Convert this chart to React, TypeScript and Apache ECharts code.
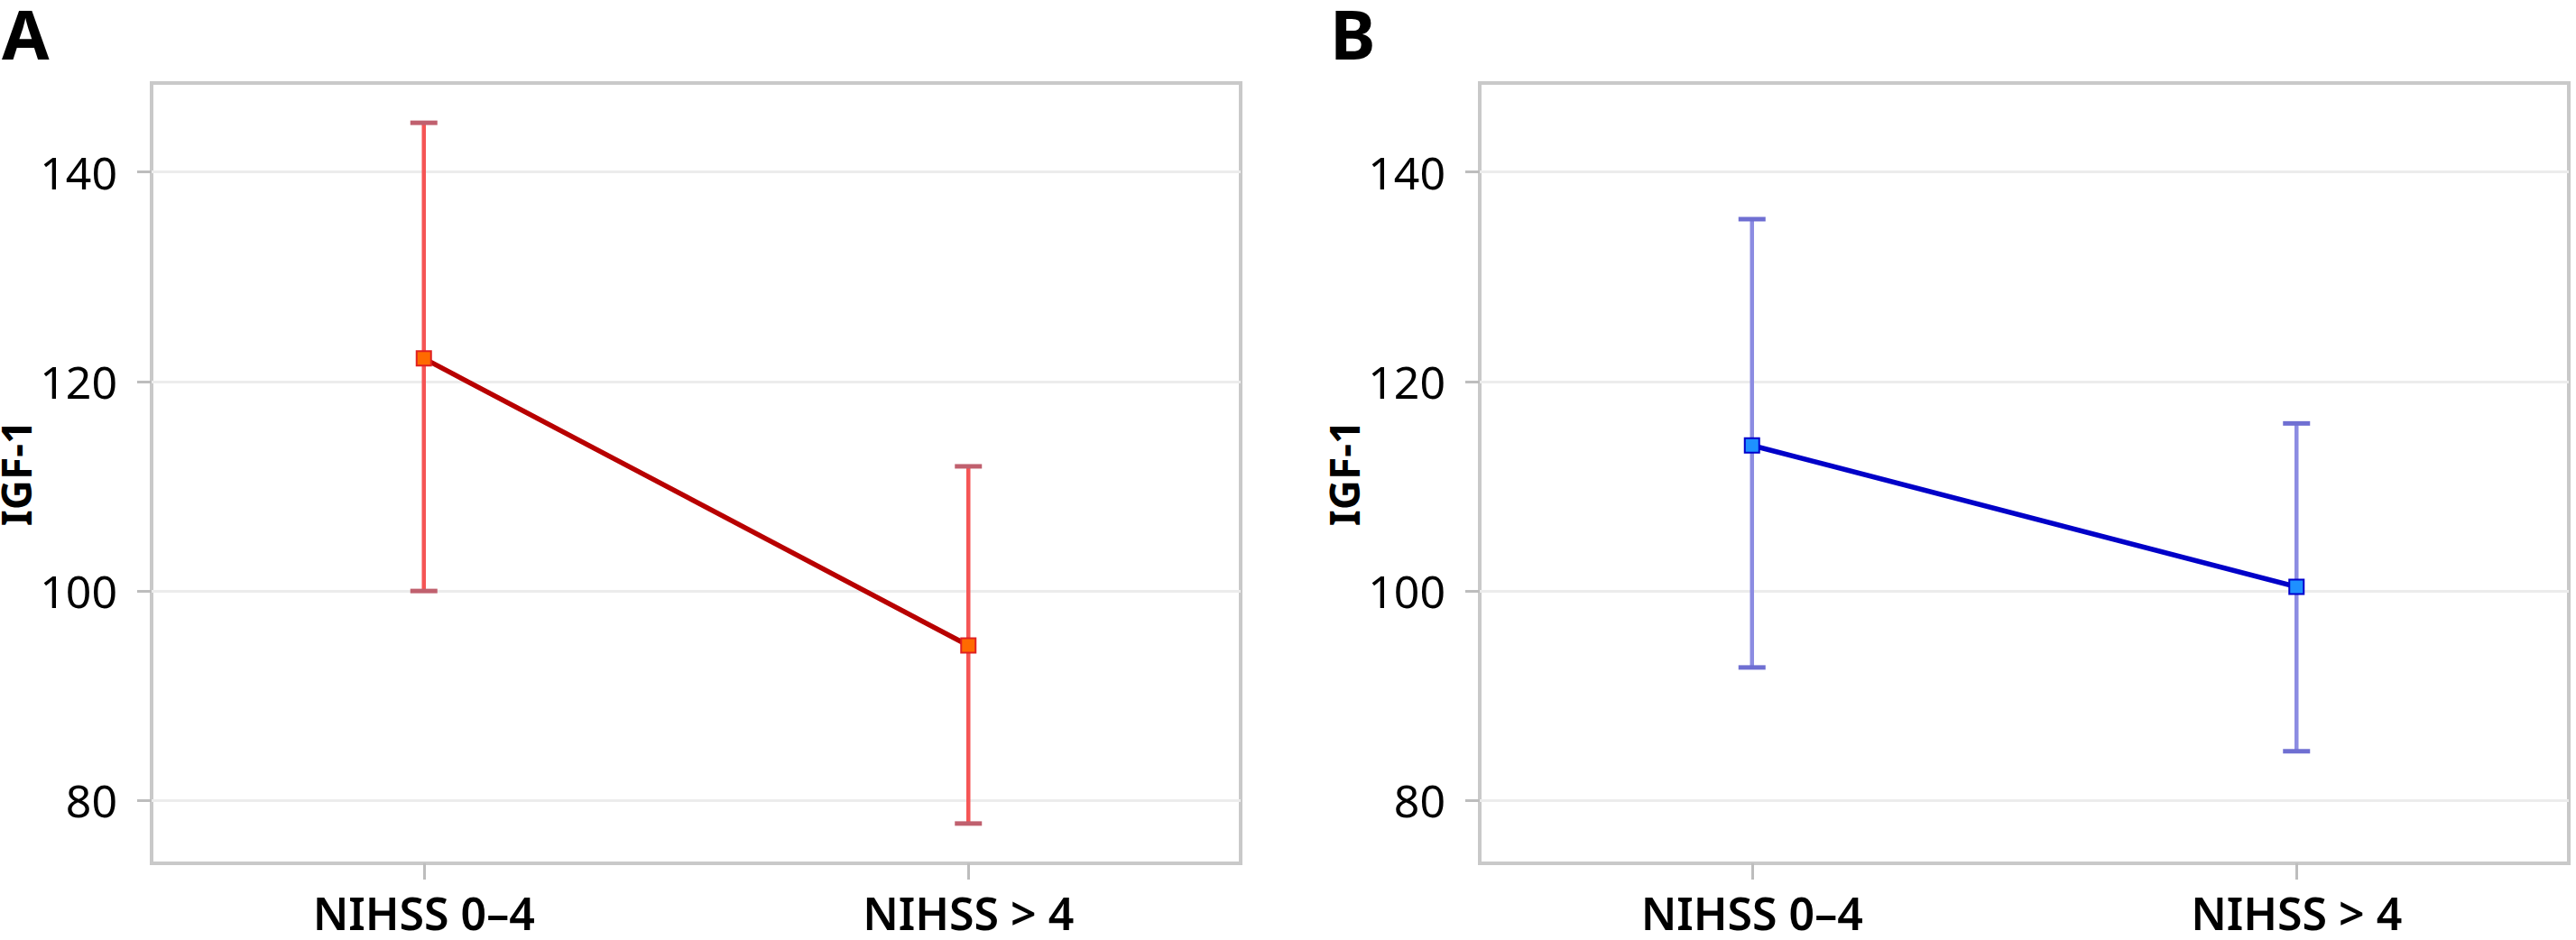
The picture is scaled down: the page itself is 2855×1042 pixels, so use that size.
import React, { useEffect, useRef } from "react";
import * as echarts from "echarts";

const categories = ["NIHSS 0–4", "NIHSS > 4"];
const yTicks = [80, 100, 120, 140];

const meanA = [122.2, 94.8];
const lowerA = [100.0, 77.8];
const upperA = [144.7, 111.9];

const meanB = [113.9, 100.4];
const lowerB = [92.7, 84.7];
const upperB = [135.5, 116.0];

const FONT = "Noto Sans";

function errorSeries(idx: number, lo: number[], hi: number[], color: string, capColor: string) {
  return {
    type: "custom",
    xAxisIndex: idx,
    yAxisIndex: idx,
    z: 2,
    encode: { x: 0, y: [1, 2] },
    data: lo.map((l, i) => [i, l, hi[i]]),
    renderItem: (params: any, api: any) => {
      const x = api.value(0);
      const pLo = api.coord([x, api.value(1)]);
      const pHi = api.coord([x, api.value(2)]);
      const half = 15;
      return {
        type: "group",
        children: [
          { type: "line", shape: { x1: pHi[0], y1: pHi[1], x2: pLo[0], y2: pLo[1] }, style: { stroke: color, lineWidth: 4.5 } },
          { type: "line", shape: { x1: pHi[0] - half, y1: pHi[1], x2: pHi[0] + half, y2: pHi[1] }, style: { stroke: capColor, lineWidth: 5 } },
          { type: "line", shape: { x1: pLo[0] - half, y1: pLo[1], x2: pLo[0] + half, y2: pLo[1] }, style: { stroke: capColor, lineWidth: 5 } },
        ],
      };
    },
  };
}

function yAxis(idx: number) {
  return {
    type: "value",
    gridIndex: idx,
    min: 74,
    max: 148.5,
    splitNumber: 4,
    name: "IGF-1",
    nameLocation: "middle",
    nameGap: 128,
    nameTextStyle: { fontFamily: FONT, fontSize: 46, fontWeight: "bold", color: "#000", lineHeight: 46 },
    axisLine: { show: false },
    axisTick: { show: true, length: 16, lineStyle: { color: "#bdbdbd", width: 3 }, customValues: yTicks },
    axisLabel: { fontFamily: FONT, fontSize: 50, color: "#000", margin: 38, customValues: yTicks },
    splitLine: { show: true, lineStyle: { color: "#ececec", width: 3 } },
  };
}

function xAxis(idx: number) {
  return {
    type: "category",
    gridIndex: idx,
    data: categories,
    boundaryGap: true,
    axisLine: { show: false },
    axisTick: { show: true, alignWithLabel: true, length: 18, lineStyle: { color: "#bdbdbd", width: 3 } },
    axisLabel: { fontFamily: FONT, fontSize: 50, fontWeight: 600, color: "#000", margin: 30 },
    splitLine: { show: false },
  };
}

export default function App() {
  const ref = useRef<HTMLDivElement>(null);
  useEffect(() => {
    document.body.style.margin = "0";
    const chart = echarts.init(ref.current!, null, { renderer: "svg" });
    const gridBase = {
      top: 92,
      width: 1207,
      height: 865,
      show: true,
      borderColor: "#c9c9c9",
      borderWidth: 4,
      backgroundColor: "transparent",
      containLabel: false,
      outerBoundsMode: "none",
    };
    const letterStyle = { fontFamily: FONT, fontSize: 76, fontWeight: "bold", fill: "#000", lineHeight: 60 };
    chart.setOption({
      animation: false,
      backgroundColor: "#fff",
      grid: [
        { ...gridBase, left: 168 },
        { ...gridBase, left: 1640 },
      ],
      xAxis: [xAxis(0), xAxis(1)],
      yAxis: [yAxis(0), yAxis(1)],
      graphic: [
        { type: "text", x: 2, y: 6, style: { ...letterStyle, text: "A" } },
        { type: "text", x: 1474, y: 6, style: { ...letterStyle, text: "B" } },
      ],
      series: [
        errorSeries(0, lowerA, upperA, "#f55555", "#c0606e"),
        {
          type: "line",
          xAxisIndex: 0,
          yAxisIndex: 0,
          z: 3,
          data: meanA,
          symbol: "rect",
          symbolSize: 16,
          lineStyle: { color: "#b80000", width: 5.5 },
          itemStyle: { color: "#ff6a00", borderColor: "#e02020", borderWidth: 2 },
        },
        errorSeries(1, lowerB, upperB, "#8c8ce2", "#6f6fd2"),
        {
          type: "line",
          xAxisIndex: 1,
          yAxisIndex: 1,
          z: 3,
          data: meanB,
          symbol: "rect",
          symbolSize: 16,
          lineStyle: { color: "#0000c8", width: 5.5 },
          itemStyle: { color: "#1e90ff", borderColor: "#0000cc", borderWidth: 2 },
        },
      ],
    });
    return () => chart.dispose();
  }, []);
  return <div ref={ref} style={{ width: 2855, height: 1042 }} />;
}
